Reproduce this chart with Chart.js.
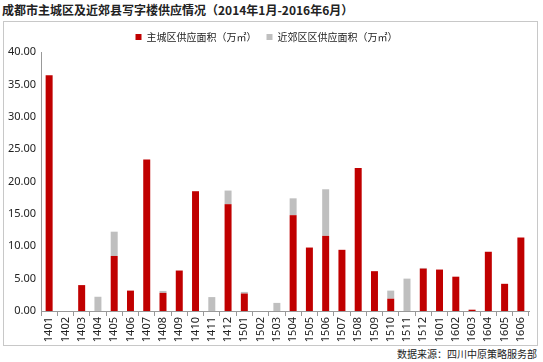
<!DOCTYPE html>
<html>
<head>
<meta charset="utf-8">
<script src="https://cdn.jsdelivr.net/npm/chart.js@4"></script>
<style>
  body { margin: 0; background: #fff; font-family: "Noto Sans CJK SC", sans-serif; }
  #title { position: absolute; left: 2px; top: 1px; font-size: 12px; font-weight: bold; color: #222; }
  #box { position: absolute; left: 3px; top: 21px; width: 533px; height: 323px; border: 1px solid #c8c8c8; }
  #source { position: absolute; right: 6px; top: 346px; font-size: 10px; color: #222; }
</style>
</head>
<body>
<div id="title">成都市主城区及近郊县写字楼供应情况（2014年1月-2016年6月）</div>
<div id="box"><canvas id="c" width="533" height="323"></canvas></div>
<div id="source">数据来源：四川中原策略服务部</div>
<script>
const months = ['1401','1402','1403','1404','1405','1406','1407','1408','1409','1410','1411','1412',
  '1501','1502','1503','1504','1505','1506','1507','1508','1509','1510','1511','1512',
  '1601','1602','1603','1604','1605','1606'];
const mainCity = [36.4, 0, 4.0, 0, 8.5, 3.15, 23.4, 2.8, 6.25, 18.5, 0, 16.5,
  2.7, 0, 0, 14.8, 9.8, 11.6, 9.45, 22.1, 6.15, 1.9, 0, 6.55,
  6.4, 5.3, 0.2, 9.15, 4.2, 11.35];
const suburb = [0, 0, 0, 2.2, 3.75, 0, 0, 0.3, 0, 0, 2.15, 2.1,
  0.25, 0, 1.25, 2.6, 0, 7.2, 0, 0, 0, 1.25, 5.0, 0.1,
  0, 0, 0, 0, 0, 0];
const yTicks = [0, 5, 10, 15, 20, 25, 30, 35, 40];

new Chart(document.getElementById('c'), {
  type: 'bar',
  data: {
    labels: months,
    datasets: [
      { label: '主城区供应面积（万㎡）', data: mainCity, backgroundColor: '#C00000' },
      { label: '近郊区区供应面积（万㎡）', data: suburb, backgroundColor: '#BFBFBF' }
    ]
  },
  options: {
    responsive: false,
    animation: false,
    layout: { padding: { left: 0, right: 8, top: 0, bottom: 0 } },
    datasets: { bar: { barPercentage: 0.43, categoryPercentage: 1 } },
    plugins: {
      legend: {
        labels: {
          boxWidth: 6, boxHeight: 6, padding: 10, color: '#222',
          font: { family: 'Noto Sans CJK SC', size: 10 }
        }
      },
      tooltip: { enabled: false }
    },
    scales: {
      x: {
        stacked: true,
        grid: { drawOnChartArea: false, drawTicks: true, tickLength: 5, offset: true, color: '#999' },
        border: { color: '#999' },
        ticks: { minRotation: 90, maxRotation: 90, autoSkip: false, color: '#222', padding: 1,
          font: { family: 'Noto Sans', size: 11 } },
        afterFit: function(axis) { axis.height = 34; }
      },
      y: {
        stacked: true,
        min: 0, max: 40,
        afterBuildTicks: function(axis) { axis.ticks = yTicks.map(v => ({ value: v })); },
        grid: { display: false, drawTicks: false },
        border: { color: '#999' },
        ticks: { color: '#222', padding: 5,
          font: { family: 'Noto Sans', size: 11 },
          callback: v => v.toFixed(2) },
        afterFit: function(axis) { axis.width = 37; }
      }
    }
  }
});
</script>
</body>
</html>
